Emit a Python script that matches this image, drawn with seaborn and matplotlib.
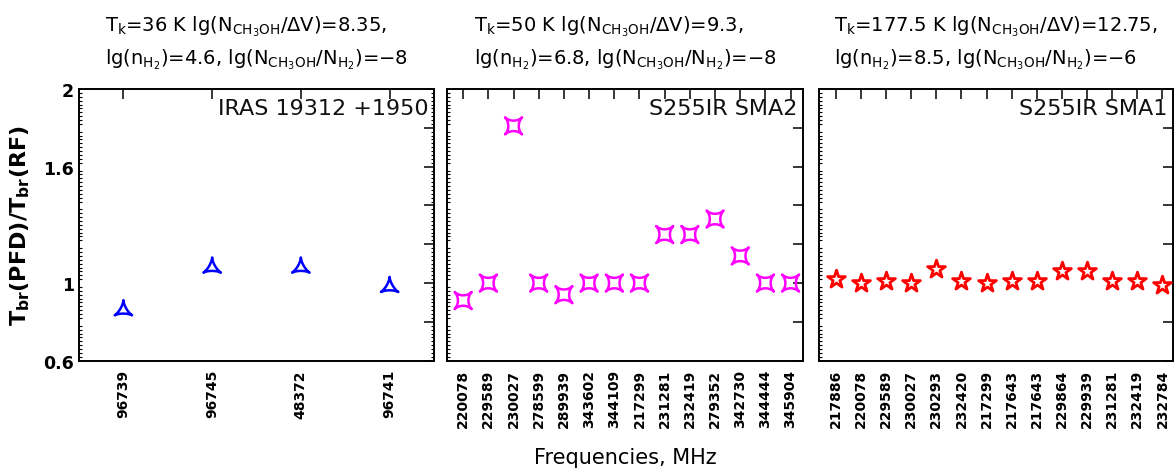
import numpy as np
import matplotlib
matplotlib.use("Agg")
import matplotlib.pyplot as plt
import seaborn as sns
import pandas as pd
from matplotlib.path import Path
from matplotlib.ticker import MultipleLocator

# ---------------- data ----------------
freq1 = ["96739", "96745", "48372", "96741"]
ratio1 = [0.86, 1.08, 1.08, 0.98]

freq2 = ["220078", "229589", "230027", "278599", "289939", "343602", "344109",
         "217299", "231281", "232419", "279352", "342730", "344444", "345904"]
ratio2 = [0.91, 1.00, 1.81, 1.00, 0.94, 1.00, 1.00, 1.00, 1.25, 1.25, 1.33,
          1.14, 1.00, 1.00]

freq3 = ["217886", "220078", "229589", "230027", "230293", "232420", "217299",
         "217643", "217643", "229864", "229939", "231281", "232419", "232784"]
ratio3 = [1.02, 1.00, 1.01, 1.00, 1.07, 1.01, 1.00, 1.01, 1.01, 1.06, 1.06,
          1.01, 1.01, 0.99]

titles = [
    "$\\mathregular{T_k}$=36 K lg($\\mathregular{N_{CH_3OH}}$/ΔV)=8.35,\n"
    "lg($\\mathregular{n_{H_2}}$)=4.6, lg($\\mathregular{N_{CH_3OH}}$/$\\mathregular{N_{H_2}}$)=−8",
    "$\\mathregular{T_k}$=50 K lg($\\mathregular{N_{CH_3OH}}$/ΔV)=9.3,\n"
    "lg($\\mathregular{n_{H_2}}$)=6.8, lg($\\mathregular{N_{CH_3OH}}$/$\\mathregular{N_{H_2}}$)=−8",
    "$\\mathregular{T_k}$=177.5 K lg($\\mathregular{N_{CH_3OH}}$/ΔV)=12.75,\n"
    "lg($\\mathregular{n_{H_2}}$)=8.5, lg($\\mathregular{N_{CH_3OH}}$/$\\mathregular{N_{H_2}}$)=−6",
]
sources = ["IRAS 19312 +1950", "S255IR SMA2", "S255IR SMA1"]
colors = ["#0000ff", "#ff00ff", "#ff0000"]
ytick_vals = [0.6, 0.8, 1.0, 1.2, 1.4, 1.6, 1.8, 2.0]
ytick_labels = ["0.6", "", "1", "", "", "1.6", "", "2"]
ylabel = "$\\mathbf{T_{br}}$(PFD)/$\\mathbf{T_{br}}$(RF)"
xlabel = "Frequencies, MHz"

# ---------------- markers ----------------
t = np.linspace(0, 2 * np.pi, 240)
# deltoid (3-cusp hypocycloid), pointing up
dx = 2 * np.cos(t) + np.cos(2 * t)
dy = 2 * np.sin(t) - np.sin(2 * t)
deltoid = Path(np.column_stack([-dy, dx]), closed=True)
# 4-cusp star (astroid-like), cusps on diagonals
a = 3.4
ax_ = np.sign(np.cos(t)) * np.abs(np.cos(t)) ** a
ay_ = np.sign(np.sin(t)) * np.abs(np.sin(t)) ** a
c, s = np.cos(np.pi / 4), np.sin(np.pi / 4)
astroid = Path(np.column_stack([c * ax_ - s * ay_, s * ax_ + c * ay_]), closed=True)

markers = [deltoid, astroid, "*"]
sizes = [210, 150, 180]
lws = [1.8, 1.8, 2.0]

# ---------------- figure ----------------
sns.set_style("white")
plt.rcParams["font.family"] = ["DejaVu Sans"]
plt.rcParams["mathtext.fontset"] = "dejavusans"
plt.rcParams["text.color"] = "black"
plt.rcParams["axes.labelcolor"] = "black"
plt.rcParams["xtick.color"] = "black"
plt.rcParams["ytick.color"] = "black"

fig = plt.figure(figsize=(11.76, 4.77), dpi=100)
W, H = 1176, 477
boxes = [(79, 434), (447.3, 802.7), (819.3, 1173)]
top_px, bot_px = 90, 361.7
xlims = [(0.5, 4.5), (0.37, 14.48), (0.34, 14.42)]

datasets = [(freq1, ratio1), (freq2, ratio2), (freq3, ratio3)]
axes = []
for i, ((l, r), (freqs, vals)) in enumerate(zip(boxes, datasets)):
    ax = fig.add_axes([l / W, 1 - bot_px / H, (r - l) / W, (bot_px - top_px) / H])
    axes.append(ax)
    df = pd.DataFrame({"pos": np.arange(1, len(freqs) + 1), "ratio": vals})
    sns.scatterplot(data=df, x="pos", y="ratio", ax=ax, marker=markers[i],
                    s=sizes[i], facecolor="none" if i < 2 else "white",
                    edgecolor=colors[i], linewidth=lws[i],
                    zorder=3, legend=False)
    ax.set_xlim(*xlims[i])
    ax.set_ylim(0.6, 2.0)
    ax.set_xticks(df["pos"])
    ax.set_xticklabels(freqs, rotation=90, fontsize=10, fontweight="bold")
    ax.set_yticks(ytick_vals)
    if i == 0:
        ax.set_yticklabels(ytick_labels, fontsize=12.5, fontweight="bold")
    else:
        ax.set_yticklabels([])
    ax.yaxis.set_minor_locator(MultipleLocator(0.02))
    ax.tick_params(axis="both", which="major", direction="in", length=7,
                   width=1.1, top=True, right=True, color="black")
    ax.tick_params(axis="x", which="major", pad=6)
    ax.tick_params(axis="y", which="minor", direction="in", length=2.5,
                   width=0.8, left=True, right=(i == 0))
    for sp in ax.spines.values():
        sp.set_visible(True)
        sp.set_color("black")
        sp.set_linewidth(1.4)
    ax.set_xlabel("")
    ax.set_ylabel("")
    ax.text(0.985, 0.93, sources[i], transform=ax.transAxes, ha="right",
            va="center", fontsize=16, color="#111111")
    ax.annotate(titles[i], xy=(0.5, 1.0), xycoords="axes fraction",
                xytext=(0, 13), textcoords="offset points", ha="center",
                va="bottom", multialignment="left", fontsize=14,
                linespacing=1.5)

axes[0].set_ylabel(ylabel, fontsize=16, fontweight="bold", labelpad=8)
fig.text(625 / W, 1 - 458 / H, xlabel, ha="center", va="center", fontsize=15)

fig.savefig("out.png", dpi=100)
